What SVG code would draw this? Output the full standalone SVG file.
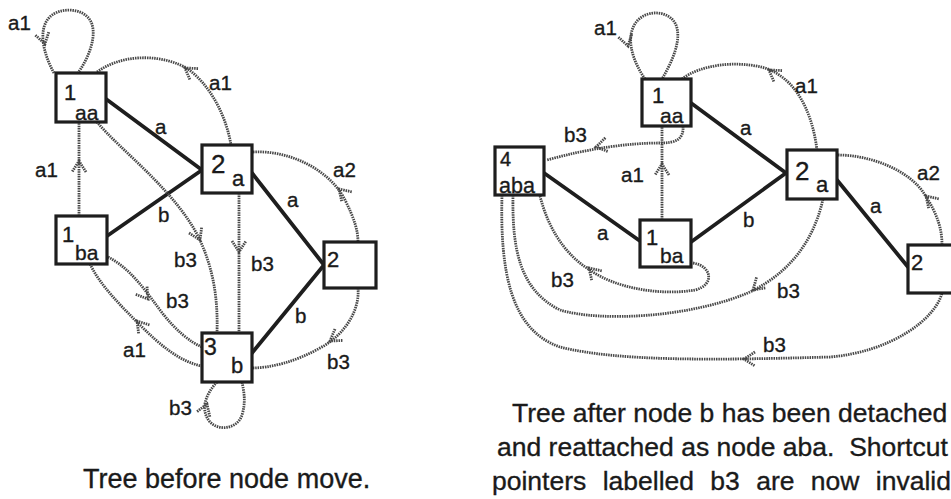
<svg xmlns="http://www.w3.org/2000/svg" xmlns:xlink="http://www.w3.org/1999/xlink" width="951" height="499" viewBox="0 0 951 499">
<style>
  .box{fill:#fff;stroke:#1e1e1e;stroke-width:3.2}
  .tree{stroke:#1e1e1e;stroke-width:3.8;fill:none;stroke-linecap:round}
  .sc{fill:none;stroke:#484848;stroke-width:2.8;stroke-dasharray:1.5 0.9}
  .t{font-family:"Liberation Sans",Arial,Helvetica,sans-serif;fill:#1a1a1a;stroke:#1a1a1a;stroke-width:0.35}
  .lbl{font-size:20.5px}
  .cap{font-size:27px}
</style>
<defs>
  <path id="ah" class="sc" d="M-7,-11 L0,0 L7,-11"/>
</defs>
<rect width="951" height="499" fill="#fff"/>

<!-- ============ LEFT: tree before node move ============ -->
<g id="connectors-left">
  <!-- tree edges -->
  <line class="tree" x1="106" y1="99" x2="202" y2="170"/>
  <line class="tree" x1="107" y1="236" x2="202" y2="170"/>
  <line class="tree" x1="252" y1="173" x2="324" y2="265"/>
  <line class="tree" x1="324" y1="265" x2="252" y2="353"/>
  <text class="t lbl" x="155" y="134">a</text>
  <text class="t lbl" x="158" y="222">b</text>
  <text class="t lbl" x="287" y="207">a</text>
  <text class="t lbl" x="295" y="323">b</text>
  <!-- shortcut pointers -->
  <path class="sc" d="M54,73 C44,55 38,32 48,19 C57,7 82,7 90,20 C98,33 90,56 78,73"/>
  <use xlink:href="#ah" transform="translate(45,44) rotate(-15)"/>
  <text class="t lbl" x="8" y="30">a1</text>

  <path class="sc" d="M97,72 C125,52 165,55 188,69 C210,85 226,115 231,145"/>
  <use xlink:href="#ah" transform="translate(185,68) rotate(125)"/>
  <text class="t lbl" x="209" y="90">a1</text>

  <path class="sc" d="M79,216 L79,122"/>
  <use xlink:href="#ah" transform="translate(79,161) rotate(180)"/>
  <text class="t lbl" x="35" y="177">a1</text>

  <path class="sc" d="M97,122 C120,150 175,190 199,238 C214,270 218,300 217,333"/>
  <use xlink:href="#ah" transform="translate(200,240) rotate(-25)"/>
  <text class="t lbl" x="174" y="267">b3</text>

  <path class="sc" d="M239,193 L239,333"/>
  <use xlink:href="#ah" transform="translate(239,252)"/>
  <text class="t lbl" x="251" y="271">b3</text>

  <path class="sc" d="M253,152 C290,150 330,170 345,200 C354,218 358,230 358,242"/>
  <use xlink:href="#ah" transform="translate(339,189) rotate(135)"/>
  <text class="t lbl" x="333" y="177">a2</text>

  <path class="sc" d="M108,257 C130,268 145,290 160,310 C175,330 190,342 202,347"/>
  <use xlink:href="#ah" transform="translate(148,299) rotate(-37)"/>
  <text class="t lbl" x="166" y="308">b3</text>

  <path class="sc" d="M90,264 C100,285 120,305 140,325 C160,345 180,362 202,366"/>
  <use xlink:href="#ah" transform="translate(137,321) rotate(140)"/>
  <text class="t lbl" x="123" y="357">a1</text>

  <path class="sc" d="M358,288 C360,310 345,335 320,348 C295,362 270,368 252,368"/>
  <use xlink:href="#ah" transform="translate(330,341) rotate(55)"/>
  <text class="t lbl" x="327" y="369">b3</text>

  <path class="sc" d="M217,382 C205,395 200,410 210,422 C220,432 238,428 242,415 C246,402 244,392 242,382"/>
  <use xlink:href="#ah" transform="translate(207,404) rotate(200)"/>
  <text class="t lbl" x="169" y="415">b3</text>
</g>

<g id="L-1aa">
  <rect class="box" x="56" y="73" width="50" height="49"/>
  <text class="t" x="64" y="100" font-size="22">1</text>
  <text class="t" x="75" y="120" font-size="21">aa</text>
</g>
<g id="L-2a">
  <rect class="box" x="202" y="145" width="50" height="48"/>
  <text class="t" x="211" y="173" font-size="26">2</text>
  <text class="t" x="232" y="186" font-size="22">a</text>
</g>
<g id="L-1ba">
  <rect class="box" x="56" y="216" width="51" height="48"/>
  <text class="t" x="62" y="242" font-size="22">1</text>
  <text class="t" x="75" y="260" font-size="21">ba</text>
</g>
<g id="L-2">
  <rect class="box" x="324" y="242" width="52" height="46"/>
  <text class="t" x="327" y="267" font-size="22">2</text>
</g>
<g id="L-3b">
  <rect class="box" x="202" y="333" width="50" height="49"/>
  <text class="t" x="204" y="355" font-size="23">3</text>
  <text class="t" x="231" y="373" font-size="22">b</text>
</g>

<text id="caption-left" class="t cap" x="83" y="488">Tree before node move.</text>

<!-- ============ RIGHT: tree after node move ============ -->
<g id="connectors-right">
  <line class="tree" x1="691" y1="103" x2="786" y2="173"/>
  <line class="tree" x1="544" y1="173" x2="640" y2="241"/>
  <line class="tree" x1="691" y1="242" x2="786" y2="173"/>
  <line class="tree" x1="837" y1="180" x2="908" y2="267"/>
  <text class="t lbl" x="740" y="135">a</text>
  <text class="t lbl" x="597" y="240">a</text>
  <text class="t lbl" x="743" y="227">b</text>
  <text class="t lbl" x="870" y="213">a</text>

  <path class="sc" d="M645,79 C632,60 624,35 638,20 C649,9 670,11 676,25 C682,40 672,62 662,79"/>
  <use xlink:href="#ah" transform="translate(628,46) rotate(-15)"/>
  <text class="t lbl" x="594" y="35">a1</text>

  <path class="sc" d="M682,79 C700,65 735,60 765,68 C795,78 812,110 817,150"/>
  <use xlink:href="#ah" transform="translate(769,70) rotate(125)"/>
  <text class="t lbl" x="795" y="93">a1</text>

  <path class="sc" d="M662,220 L662,126"/>
  <use xlink:href="#ah" transform="translate(662,164) rotate(180)"/>
  <text class="t lbl" x="621" y="182">a1</text>

  <path class="sc" d="M683,126 C684,140 675,143 660,143 C630,143 590,148 547,160"/>
  <use xlink:href="#ah" transform="translate(596,147) rotate(78)"/>
  <text class="t lbl" x="564" y="142">b3</text>

  <path class="sc" d="M540,196 C548,228 565,255 590,270 C615,288 660,296 695,290 C715,285 712,266 693,263"/>
  <use xlink:href="#ah" transform="translate(589,268) rotate(135)"/>
  <text class="t lbl" x="551" y="287">b3</text>

  <path class="sc" d="M513,195 C512,250 520,290 560,310 C600,322 690,318 750,292 C795,270 815,235 823,199"/>
  <use xlink:href="#ah" transform="translate(753,290) rotate(48)"/>
  <text class="t lbl" x="777" y="298">b3</text>

  <path class="sc" d="M502,195 C500,270 510,330 560,347 C620,362 720,360 830,357 C890,352 935,320 942,293"/>
  <use xlink:href="#ah" transform="translate(744,359) rotate(90)"/>
  <text class="t lbl" x="763" y="352">b3</text>

  <path class="sc" d="M838,155 C870,155 910,170 925,195 C938,215 942,230 942,245"/>
  <use xlink:href="#ah" transform="translate(926,196) rotate(135)"/>
  <text class="t lbl" x="917" y="180">a2</text>
</g>

<g id="R-1aa">
  <rect class="box" x="642" y="79" width="49" height="47"/>
  <text class="t" x="652" y="103" font-size="22">1</text>
  <text class="t" x="660" y="123" font-size="21">aa</text>
</g>
<g id="R-2a">
  <rect class="box" x="787" y="150" width="50" height="49"/>
  <text class="t" x="795" y="180" font-size="26">2</text>
  <text class="t" x="816" y="192" font-size="22">a</text>
</g>
<g id="R-4aba">
  <rect class="box" x="495" y="147" width="49" height="48"/>
  <text class="t" x="500" y="166" font-size="20">4</text>
  <text class="t" x="499" y="192.5" font-size="21.5">aba</text>
</g>
<g id="R-1ba">
  <rect class="box" x="640" y="220" width="51" height="47"/>
  <text class="t" x="646" y="245" font-size="22">1</text>
  <text class="t" x="660" y="263" font-size="21">ba</text>
</g>
<g id="R-2">
  <rect class="box" x="908" y="245" width="52" height="48"/>
  <text class="t" x="911" y="270" font-size="22">2</text>
</g>

<g id="caption-right" class="t" font-size="26.5">
  <text x="512" y="422">Tree after node b has been detached</text>
  <text x="497" y="456" xml:space="preserve">and reattached as node aba.  Shortcut</text>
  <text x="492" y="490" word-spacing="9">pointers labelled b3 are now invalid</text>
</g>
</svg>
